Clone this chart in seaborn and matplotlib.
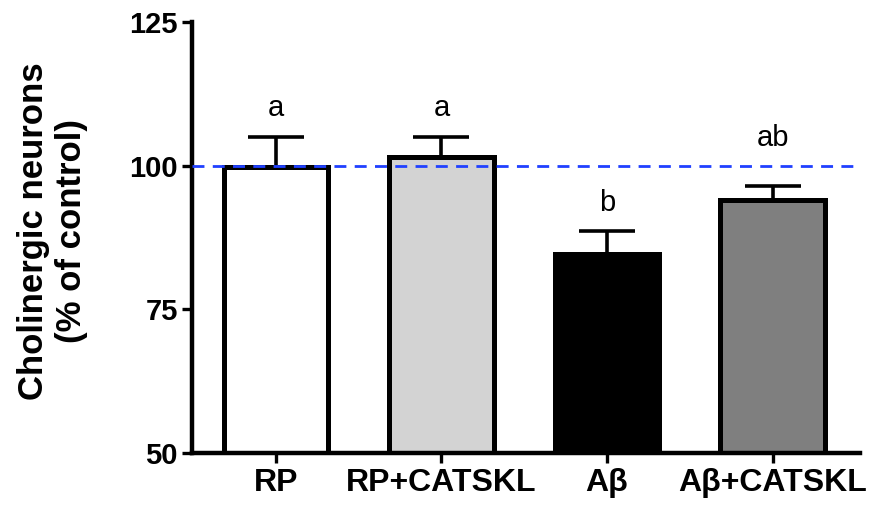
import numpy as np
import seaborn as sns
import matplotlib.pyplot as plt

# values
groups = ["RP", "RP+CATSKL", "Aβ", "Aβ+CATSKL"]
means = [99.7, 101.5, 84.6, 94.0]
sem = [5.3, 3.5, 4.1, 2.4]
letters = ["a", "a", "b", "ab"]
letter_y = [110.0, 110.0, 93.5, 104.8]
bar_colors = ["#ffffff", "#d3d3d3", "#000000", "#7f7f7f"]

sns.set_style("ticks", {"axes.edgecolor": "black", "text.color": "black",
                        "xtick.color": "black", "ytick.color": "black"})
plt.rcParams["font.family"] = ["Liberation Sans", "DejaVu Sans"]

fig = plt.figure(figsize=(8.88, 5.08), dpi=100)
ax = fig.add_axes([0.216, 0.108, 0.752, 0.849])

sns.barplot(x=groups, y=means, hue=groups, palette=bar_colors, legend=False,
            width=0.63, edgecolor="black", linewidth=3.6, errorbar=None, ax=ax)

# upward-only error bars
ax.errorbar(range(len(groups)), means, yerr=[np.zeros(len(sem)), sem],
            fmt="none", ecolor="black", elinewidth=2.6, capsize=20,
            capthick=2.6, zorder=1)

# reference line at 100 %
ax.axhline(100, color="#2040ff", linestyle=(0, (4.3, 3)), linewidth=2, zorder=5)

for i, (y, t) in enumerate(zip(letter_y, letters)):
    ax.text(i, y, t, ha="center", va="center", fontsize=21, color="black")

ax.set_ylim(50, 125)
ax.set_xlim(-0.507, 3.525)
ax.set_yticks([50, 75, 100, 125])
ax.set_ylabel("Cholinergic neurons\n(% of control)", fontsize=25,
              fontweight="bold", linespacing=1.2, color="black")
ax.yaxis.set_label_coords(-0.155, 0.515)

ax.tick_params(axis="y", labelsize=21, width=2.4, length=7, pad=3, colors="black")
ax.tick_params(axis="x", labelsize=23, width=2.4, length=7, pad=4, colors="black")
for lab in ax.get_xticklabels() + ax.get_yticklabels():
    lab.set_fontweight("bold")

sns.despine(ax=ax)
ax.spines["left"].set_linewidth(3.2)
ax.spines["bottom"].set_linewidth(3.2)

fig.savefig("out.png", dpi=100)
